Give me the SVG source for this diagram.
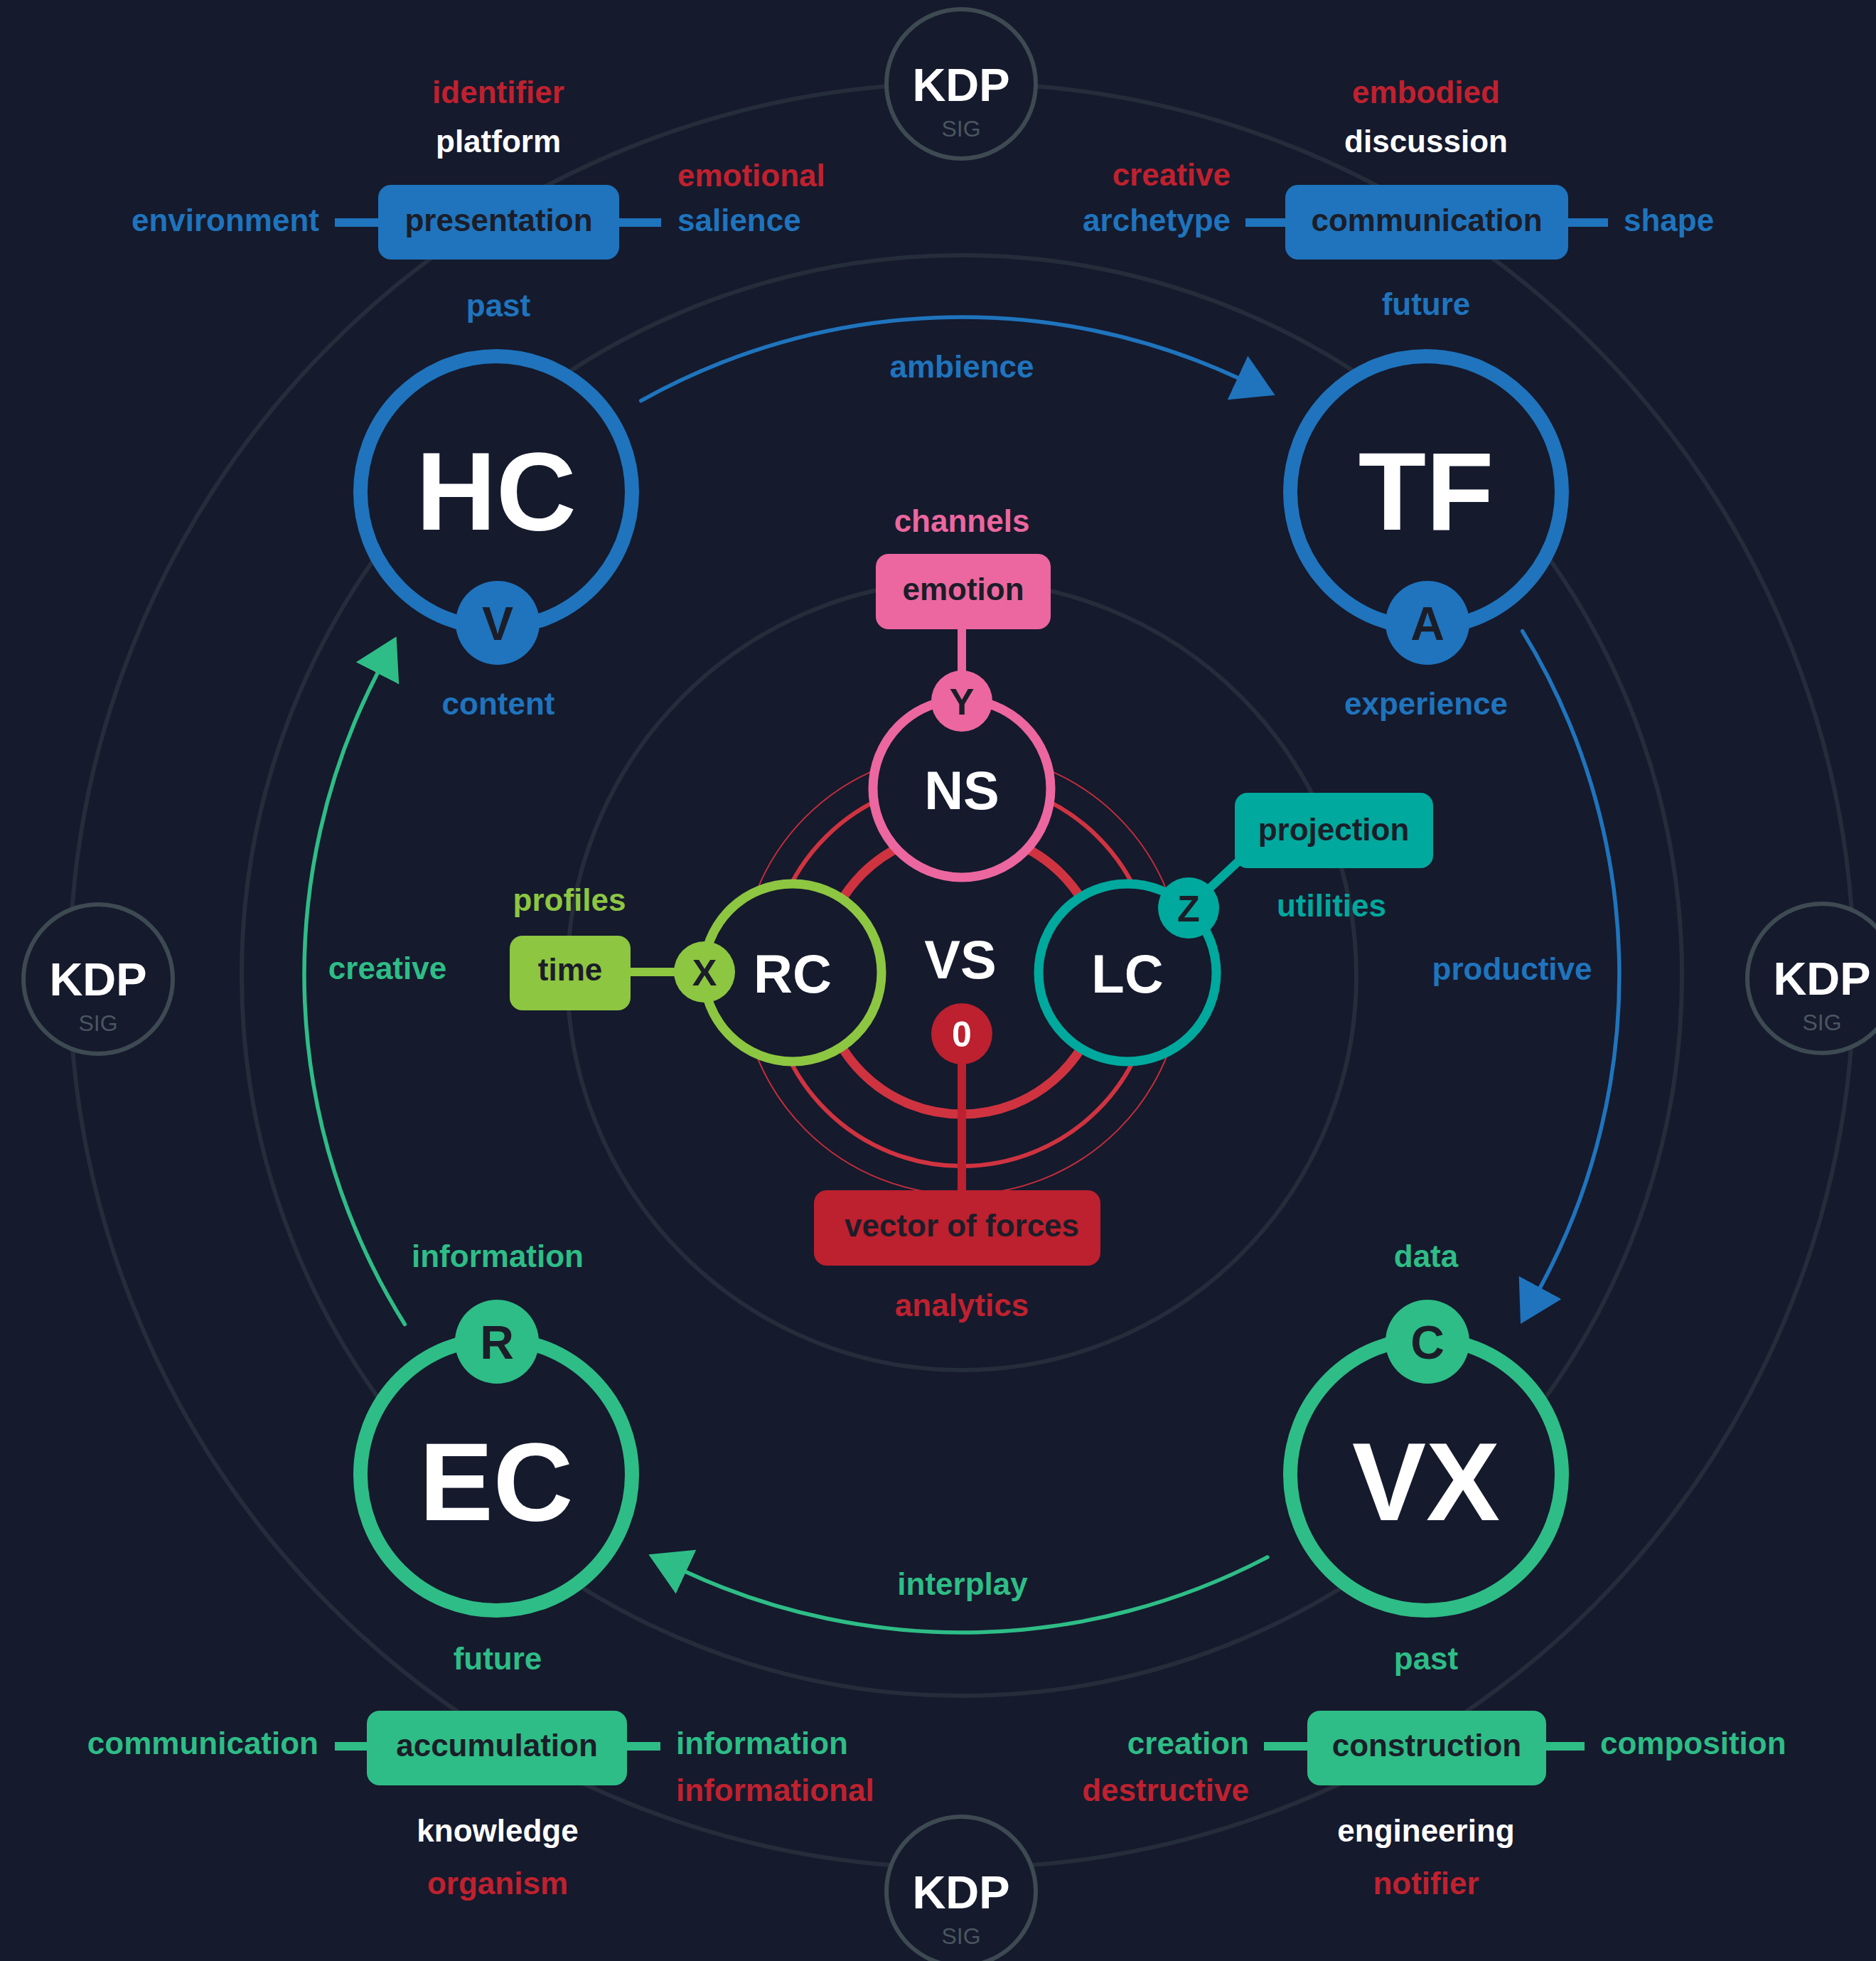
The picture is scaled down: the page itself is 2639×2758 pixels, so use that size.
<svg xmlns="http://www.w3.org/2000/svg" width="2639" height="2758" viewBox="0 0 2639 2758">
  <style>
    text { font-family: "Liberation Sans", Arial, sans-serif; font-weight: bold; }
    .lbl { font-size: 44px; }
    .mid { text-anchor: middle; }
    .end { text-anchor: end; }
    .blue { fill: #1f74bd; }
    .green { fill: #2ebd86; }
    .red { fill: #c0212f; }
    .white { fill: #ffffff; }
    .pink { fill: #ec679f; }
    .lime { fill: #8dc641; }
    .teal { fill: #00a99d; }
    .dark { fill: #1b1d29; }
    .ring { fill: none; stroke: #252c3a; stroke-width: 6; }
    .kdp circle { fill: #151a2d; stroke: #3e4a52; stroke-width: 6; }
    .kdp .k { font-size: 65px; fill: #ffffff; text-anchor: middle; }
    .kdp .s { font-size: 32px; font-weight: normal; fill: #4a565e; text-anchor: middle; }
    .big { font-size: 156px; fill: #ffffff; text-anchor: middle; }
    .mid-node { font-size: 76px; fill: #ffffff; text-anchor: middle; }
    .port { font-size: 66px; fill: #1b1d29; text-anchor: middle; }
    .port-s { font-size: 52px; fill: #1b1d29; text-anchor: middle; }
    .hub { fill: #151a2d; stroke-width: 20; }
    .sub { fill: #151a2d; stroke-width: 13; }
    .arc { fill: none; stroke-width: 5.5; stroke-linecap: round; }
    .tie { stroke-width: 12; fill: none; }
  </style>
  <defs>
    <marker id="head-blue" viewBox="0 -35 60 70" refX="0" refY="0" markerWidth="60" markerHeight="70" markerUnits="userSpaceOnUse" orient="auto">
      <path d="M0,-34 L58,0 L0,34 Z" fill="#1f74bd"/>
    </marker>
    <marker id="head-green" viewBox="0 -35 60 70" refX="0" refY="0" markerWidth="60" markerHeight="70" markerUnits="userSpaceOnUse" orient="auto">
      <path d="M0,-34 L58,0 L0,34 Z" fill="#2ebd86"/>
    </marker>
  </defs>

  <rect x="0" y="0" width="2639" height="2758" fill="#151a2d"/>

  <!-- concentric orbit rings -->
  <g id="orbits">
    <circle class="ring" cx="1353" cy="1372" r="555"/>
    <circle class="ring" cx="1353" cy="1372" r="1013"/>
    <circle class="ring" cx="1353" cy="1372" r="1255"/>
  </g>

  <!-- KDP SIG markers -->
  <g id="kdp-top" class="kdp">
    <circle cx="1352" cy="118" r="105"/>
    <text class="k" x="1352" y="142">KDP</text>
    <text class="s" x="1352" y="192">SIG</text>
  </g>
  <g id="kdp-bottom" class="kdp">
    <circle cx="1352" cy="2660" r="105"/>
    <text class="k" x="1352" y="2684">KDP</text>
    <text class="s" x="1352" y="2734">SIG</text>
  </g>
  <g id="kdp-left" class="kdp">
    <circle cx="138" cy="1377" r="105"/>
    <text class="k" x="138" y="1400">KDP</text>
    <text class="s" x="138" y="1450">SIG</text>
  </g>
  <g id="kdp-right" class="kdp">
    <circle cx="2563" cy="1376" r="105"/>
    <text class="k" x="2563" y="1399">KDP</text>
    <text class="s" x="2563" y="1449">SIG</text>
  </g>

  <!-- cycle connectors between the four hubs -->
  <g id="connectors">
    <path class="arc" stroke="#1f74bd" d="M901.7,563.6 A925,925 0 0 1 1741,531.3" marker-end="url(#head-blue)"/>
    <path class="arc" stroke="#1f74bd" d="M2141.7,887.7 A925,925 0 0 1 2166.6,1810.9" marker-end="url(#head-blue)"/>
    <path class="arc" stroke="#2ebd86" d="M1782.9,2190 A925,925 0 0 1 965,2210.7" marker-end="url(#head-green)"/>
    <path class="arc" stroke="#2ebd86" d="M569.4,1862.5 A925,925 0 0 1 531,946.8" marker-end="url(#head-green)"/>
    <text class="lbl mid blue" x="1353" y="531">ambience</text>
    <text class="lbl mid blue" x="2127" y="1378">productive</text>
    <text class="lbl mid green" x="1354" y="2243">interplay</text>
    <text class="lbl mid green" x="545" y="1377">creative</text>
  </g>

  <!-- HC hub -->
  <g id="hc">
    <text class="lbl mid red" x="701" y="145">identifier</text>
    <text class="lbl mid white" x="701" y="214">platform</text>
    <line class="tie" stroke="#1f74bd" x1="471" y1="313" x2="532" y2="313"/>
    <line class="tie" stroke="#1f74bd" x1="871" y1="313" x2="930" y2="313"/>
    <rect x="532" y="260" width="339" height="105" rx="18" fill="#1f74bd"/>
    <text class="lbl mid dark" x="701.5" y="325">presentation</text>
    <text class="lbl end blue" x="449" y="325">environment</text>
    <text class="lbl red" x="953" y="262">emotional</text>
    <text class="lbl blue" x="953" y="325">salience</text>
    <text class="lbl mid blue" x="701" y="445">past</text>
    <circle class="hub" stroke="#1f74bd" cx="698" cy="692" r="191"/>
    <text class="big" x="698" y="745">HC</text>
    <circle cx="700" cy="876" r="59" fill="#1f74bd"/>
    <text class="port" x="700" y="900">V</text>
    <text class="lbl mid blue" x="701" y="1005">content</text>
  </g>

  <!-- TF hub -->
  <g id="tf">
    <text class="lbl mid red" x="2006" y="145">embodied</text>
    <text class="lbl mid white" x="2006" y="214">discussion</text>
    <line class="tie" stroke="#1f74bd" x1="1752" y1="313" x2="1808" y2="313"/>
    <line class="tie" stroke="#1f74bd" x1="2206" y1="313" x2="2262" y2="313"/>
    <rect x="1808" y="260" width="398" height="105" rx="18" fill="#1f74bd"/>
    <text class="lbl mid dark" x="2007" y="325">communication</text>
    <text class="lbl end red" x="1731" y="261">creative</text>
    <text class="lbl end blue" x="1731" y="325">archetype</text>
    <text class="lbl blue" x="2284" y="325">shape</text>
    <text class="lbl mid blue" x="2006" y="443">future</text>
    <circle class="hub" stroke="#1f74bd" cx="2006" cy="692" r="191"/>
    <text class="big" x="2006" y="745">TF</text>
    <circle cx="2008" cy="876" r="59" fill="#1f74bd"/>
    <text class="port" x="2008" y="900">A</text>
    <text class="lbl mid blue" x="2006" y="1005">experience</text>
  </g>

  <!-- EC hub -->
  <g id="ec">
    <text class="lbl mid green" x="700" y="1782">information</text>
    <circle class="hub" stroke="#2ebd86" cx="698" cy="2074" r="191"/>
    <text class="big" x="698" y="2138">EC</text>
    <circle cx="699" cy="1887" r="59" fill="#2ebd86"/>
    <text class="port" x="699" y="1911">R</text>
    <text class="lbl mid green" x="700" y="2348">future</text>
    <line class="tie" stroke="#2ebd86" x1="471" y1="2456" x2="516" y2="2456"/>
    <line class="tie" stroke="#2ebd86" x1="882" y1="2456" x2="929" y2="2456"/>
    <rect x="516" y="2406" width="366" height="105" rx="18" fill="#2ebd86"/>
    <text class="lbl mid dark" x="699" y="2470">accumulation</text>
    <text class="lbl end green" x="448" y="2467">communication</text>
    <text class="lbl green" x="951" y="2467">information</text>
    <text class="lbl red" x="951" y="2533">informational</text>
    <text class="lbl mid white" x="700" y="2590">knowledge</text>
    <text class="lbl mid red" x="700" y="2664">organism</text>
  </g>

  <!-- VX hub -->
  <g id="vx">
    <text class="lbl mid green" x="2006" y="1782">data</text>
    <circle class="hub" stroke="#2ebd86" cx="2006" cy="2074" r="191"/>
    <text class="big" x="2006" y="2138">VX</text>
    <circle cx="2008" cy="1887" r="59" fill="#2ebd86"/>
    <text class="port" x="2008" y="1911">C</text>
    <text class="lbl mid green" x="2006" y="2348">past</text>
    <line class="tie" stroke="#2ebd86" x1="1778" y1="2456" x2="1839" y2="2456"/>
    <line class="tie" stroke="#2ebd86" x1="2175" y1="2456" x2="2229" y2="2456"/>
    <rect x="1839" y="2406" width="336" height="105" rx="18" fill="#2ebd86"/>
    <text class="lbl mid dark" x="2007" y="2470">construction</text>
    <text class="lbl end green" x="1757" y="2467">creation</text>
    <text class="lbl end red" x="1757" y="2533">destructive</text>
    <text class="lbl green" x="2251" y="2467">composition</text>
    <text class="lbl mid white" x="2006" y="2590">engineering</text>
    <text class="lbl mid red" x="2006" y="2664">notifier</text>
  </g>

  <!-- VS core: force rings -->
  <g id="vs-rings">
    <circle cx="1353" cy="1369" r="311" fill="none" stroke="#c42d3a" stroke-width="2"/>
    <circle cx="1353" cy="1369" r="271" fill="none" stroke="#d03340" stroke-width="6"/>
    <circle cx="1353" cy="1369" r="198" fill="none" stroke="#d03340" stroke-width="13"/>
  </g>

  <!-- VS label and zero point -->
  <g id="vs">
    <text class="mid-node" x="1351" y="1376">VS</text>
    <line class="tie" stroke="#bd202e" stroke-width="13" x1="1353" y1="1454" x2="1353" y2="1680"/>
    <circle cx="1353" cy="1454" r="43" fill="#bd202e"/>
    <text x="1353" y="1472" font-size="50" fill="#ffffff" text-anchor="middle">0</text>
    <rect x="1145" y="1674" width="403" height="106" rx="18" fill="#bd202e"/>
    <text class="lbl mid dark" x="1353" y="1739">vector of forces</text>
    <text class="lbl mid red" x="1353" y="1851">analytics</text>
  </g>

  <!-- NS node -->
  <g id="ns">
    <text class="lbl mid pink" x="1353" y="748">channels</text>
    <line class="tie" stroke="#ec679f" stroke-width="13" x1="1353" y1="880" x2="1353" y2="986"/>
    <rect x="1232" y="779" width="246" height="106" rx="18" fill="#ec679f"/>
    <text class="lbl mid dark" x="1355" y="844">emotion</text>
    <circle class="sub" stroke="#ec679f" cx="1353" cy="1109" r="125"/>
    <text class="mid-node" x="1353" y="1138">NS</text>
    <circle cx="1353" cy="986" r="43" fill="#ec679f"/>
    <text class="port-s" x="1353" y="1005">Y</text>
  </g>

  <!-- RC node -->
  <g id="rc">
    <text class="lbl mid lime" x="801" y="1281">profiles</text>
    <line class="tie" stroke="#8dc641" stroke-width="13" x1="880" y1="1367" x2="991" y2="1367"/>
    <rect x="717" y="1316" width="170" height="105" rx="18" fill="#8dc641"/>
    <text class="lbl mid dark" x="802" y="1379">time</text>
    <circle class="sub" stroke="#8dc641" cx="1115" cy="1368" r="125"/>
    <text class="mid-node" x="1115" y="1396">RC</text>
    <circle cx="991" cy="1367" r="43" fill="#8dc641"/>
    <text class="port-s" x="991" y="1386">X</text>
  </g>

  <!-- LC node -->
  <g id="lc">
    <line class="tie" stroke="#00a99d" stroke-width="13" x1="1672" y1="1277" x2="1765" y2="1190"/>
    <rect x="1737" y="1115" width="279" height="106" rx="18" fill="#00a99d"/>
    <text class="lbl mid dark" x="1876" y="1182">projection</text>
    <text class="lbl mid teal" x="1873" y="1289">utilities</text>
    <circle class="sub" stroke="#00a99d" cx="1586" cy="1368" r="125"/>
    <text class="mid-node" x="1586" y="1396">LC</text>
    <circle cx="1672" cy="1277" r="43" fill="#00a99d"/>
    <text class="port-s" x="1672" y="1296">Z</text>
  </g>
</svg>
